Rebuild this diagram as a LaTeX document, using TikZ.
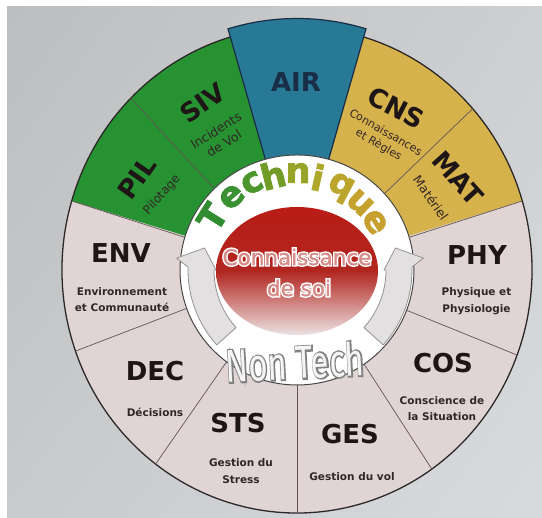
\documentclass[tikz,border=0pt]{standalone}
\usepackage{fontspec}
\setmainfont{DejaVu Sans}
\newfontfamily\tqfont[FakeBold=2.5]{DejaVu Sans Bold}
\newfontfamily\tqoutfont[FakeBold=11]{DejaVu Sans Bold}
\newfontfamily\csfont[FakeBold=1]{DejaVu Sans}
\newfontfamily\csoutfont[FakeBold=15]{DejaVu Sans}
\newfontfamily\ntfont{Fira Sans}
\newfontfamily\ntoutfont[FakeBold=7]{Fira Sans}
\usetikzlibrary{calc,shadings}
\definecolor{bgA}{RGB}{188,190,192}
\definecolor{bgB}{RGB}{205,207,209}
\definecolor{bgC}{RGB}{200,202,204}
\definecolor{bgD}{RGB}{216,219,222}
\definecolor{beigeS}{RGB}{224,212,212}
\definecolor{greenS}{RGB}{38,146,50}
\definecolor{yellowS}{RGB}{214,178,76}
\definecolor{blueS}{RGB}{40,121,150}
\definecolor{airline}{RGB}{25,45,70}
\definecolor{outl}{RGB}{45,40,40}
\definecolor{divc}{RGB}{100,85,85}
\definecolor{ringc}{RGB}{70,70,70}
\definecolor{arrf}{RGB}{226,224,224}
\definecolor{arrd}{RGB}{150,146,146}
\definecolor{redA}{RGB}{185,28,22}
\definecolor{redB}{RGB}{178,38,32}
\definecolor{redC}{RGB}{236,226,226}
\definecolor{labc}{RGB}{30,22,22}
\definecolor{subc}{RGB}{50,38,38}
\definecolor{cfill}{RGB}{214,140,136}
\definecolor{ntout}{RGB}{130,130,130}
\definecolor{ntfill}{RGB}{245,245,245}
\definecolor{tqA}{RGB}{50,140,50}
\definecolor{tqB}{RGB}{58,145,50}
\definecolor{tqC}{RGB}{75,150,45}
\definecolor{tqD}{RGB}{115,155,40}
\definecolor{tqE}{RGB}{150,165,40}
\definecolor{tqF}{RGB}{175,168,42}
\definecolor{tqG}{RGB}{188,165,44}
\definecolor{tqH}{RGB}{196,162,45}
\definecolor{tqI}{RGB}{200,160,48}
\begin{document}
\begin{tikzpicture}[x=1pt,y=1pt,
  lab/.style={font=\fontsize{26}{30}\selectfont\bfseries, text=labc, inner sep=0},
  sub/.style={font=\fontsize{10.5}{16.5}\selectfont\bfseries, text=subc, align=center, inner sep=0},
  tsub/.style={text=subc, align=center, inner sep=0},
  divl/.style={draw=divc, line width=0.7pt},
  arr/.style={fill=arrf, draw=arrd, line width=0.8pt, line join=round},
  tqin/.style={font=\tqfont\fontsize{35}{35}\selectfont, inner sep=0},
  tqout/.style={font=\tqoutfont\fontsize{35}{35}\selectfont, inner sep=0, text=white},
  csin/.style={font=\csfont\fontsize{21.5}{21.5}\selectfont, inner sep=0, text=cfill},
  csout/.style={font=\csoutfont\fontsize{21.5}{21.5}\selectfont, inner sep=0, text=white},
  ntin/.style={font=\ntfont\fontsize{46}{46}\selectfont, inner sep=0, text=ntfill, rotate=3},
  ntout/.style={font=\ntoutfont\fontsize{46}{46}\selectfont, inner sep=0, text=ntout, rotate=3},
]
\useasboundingbox (0,0) rectangle (542,518);
\fill[white] (0,0) rectangle (542,518);
\shade[upper left=bgA, upper right=bgB, lower left=bgC, lower right=bgD] (7,0) rectangle (542,511);
\coordinate (C) at (297,248);
\coordinate (A) at (300,248);

% sectors
\fill[beigeS] (C) ellipse [x radius=235, y radius=243];
\fill[greenS] (C) -- ($(C)+(106.5:235 and 243)$) arc[start angle=106.5, end angle=163.5, x radius=235, y radius=243] -- cycle;
\fill[yellowS] (C) -- ($(C)+(16.5:235 and 243)$) arc[start angle=16.5, end angle=73.5, x radius=235, y radius=243] -- cycle;
\draw[outl, line width=1.3pt] ($(C)+(106.5:235 and 243)$) arc[start angle=106.5, end angle=433.5, x radius=235, y radius=243];
\foreach \a in {16.5,41.6,135,163.5,199.5,233,270,305,339.5}
  \draw[divl] ($(C)+(\a:117 and 115)$) -- ($(C)+(\a:235 and 243)$);
\filldraw[fill=blueS, draw=airline, line width=1.2pt] (C) -- ($(C)+(73.5:243 and 251.5)$) arc[start angle=73.5, end angle=106.5, x radius=243, y radius=251.5] -- cycle;

% inner ring
\filldraw[fill=white, draw=ringc, line width=1pt] (C) ellipse[x radius=117, y radius=115];

% arrows
\filldraw[arr] ($(A)+(-42:112)$) arc[start angle=-42, end angle=1.5, radius=112] -- ($(A)+(5.5:124)$) -- ($(A)+(13:98)$) -- ($(A)+(0:84)$) -- ($(A)+(0:86)$) arc[start angle=0, end angle=-42, radius=86] -- cycle;
\filldraw[arr] ($(A)+(222:112)$) arc[start angle=222, end angle=178.5, radius=112] -- ($(A)+(174.5:124)$) -- ($(A)+(167:98)$) -- ($(A)+(180:84)$) -- ($(A)+(180:86)$) arc[start angle=180, end angle=222, radius=86] -- cycle;

% centre
\shade[top color=redA, bottom color=redC, middle color=redB] (297,247) ellipse[x radius=81, y radius=64];

% labels
\node[lab, text=airline] (air) at (296,436) {AIR};
\node[lab, rotate=-27] (cns) at (396,410) {CNS};
\node[tsub, font=\fontsize{11}{14}\selectfont, rotate=-30] (cnss) at (382,379) {Connaissances\\et Règles};
\node[lab, rotate=-48] (mat) at (458,340) {MAT};
\node[tsub, font=\fontsize{12.5}{14}\selectfont, rotate=-55] (mats) at (431,320) {Matériel};
\node[lab, rotate=55] (pil) at (137,340) {PIL};
\node[tsub, font=\fontsize{12}{14}\selectfont, rotate=48] (pils) at (162,323) {Pilotage};
\node[lab, rotate=35] (siv) at (203,415) {SIV};
\node[tsub, font=\fontsize{12.5}{15}\selectfont, rotate=32] (sivs) at (220,381) {Incidents\\de Vol};

\node[lab] (env) at (121,265) {ENV};
\node[sub] (envs) at (122,218.5) {Environnement\\et Communauté};
\node[lab] (dec) at (155,147) {DEC};
\node[sub] (decs) at (155,106) {Décisions};
\node[lab] (sts) at (238,95) {STS};
\node[sub] (stss) at (241,47) {Gestion du\\Stress};
\node[lab] (ges) at (350,84) {GES};
\node[sub] (gess) at (352,41) {Gestion du vol};
\node[lab] (cos) at (443,155) {COS};
\node[sub] (coss) at (442,109.5) {Conscience de\\la Situation};
\node[lab] (phy) at (477,263) {PHY};
\node[sub] (phys) at (476.5,217) {Physique et\\Physiologie};

% Technique
\foreach \ch/\th/\rr/\cc [count=\n] in {T/148/100/tqA, e/131.7/98/tqB, c/117.3/98/tqC, h/104.2/98/tqD, n/89.4/97/tqE, i/77.3/95/tqF, q/62.3/92.6/tqG, u/46.8/92/tqH, e/31.6/91.6/tqI}{
  \pgfmathsetmacro\rot{\th-90}
  \node[tqout, rotate=\rot] (tqo\n) at ($(C)+(\th:\rr)$) {\ch};
  \node[tqin, rotate=\rot, text=\cc] (tq\n) at ($(C)+(\th:\rr)$) {\ch};
}

% Connaissance de soi
\node[csout] (cs1o) at (297,261) {Connaissance};
\node[csin] (cs1) at (297,261) {Connaissance};
\node[csout] (cs2o) at (299,230) {de soi};
\node[csin] (cs2) at (299,230) {de soi};

% Non Tech
\node[ntout] (nto) at (295,156) {\scalebox{0.72}[1]{Non Tech}};
\node[ntin] (nt) at (295,156) {\scalebox{0.72}[1]{Non Tech}};
\end{tikzpicture}
\end{document}
